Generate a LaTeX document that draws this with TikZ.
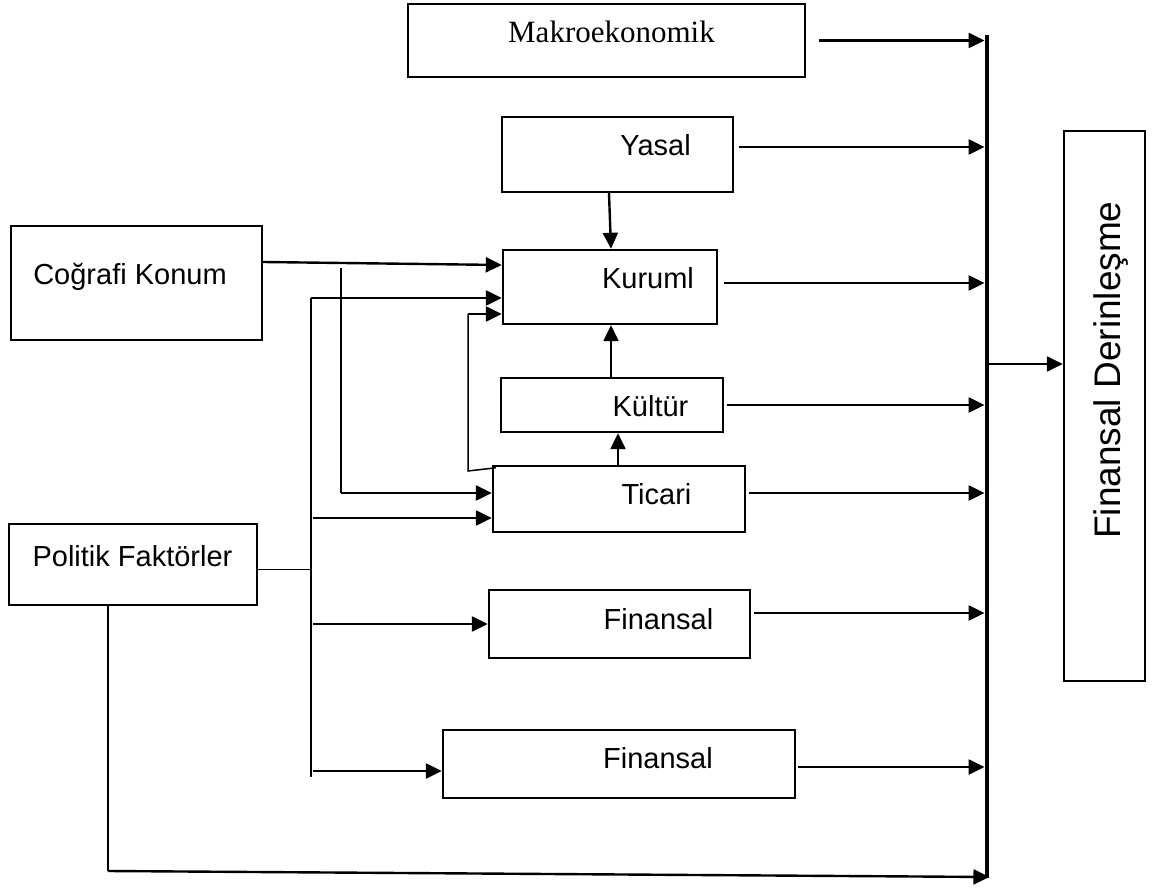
\documentclass[tikz,border=0pt]{standalone}
\usepackage{fontspec}
\setmainfont{Liberation Sans}
\newfontfamily\timesfont{Liberation Serif}
\usetikzlibrary{arrows.meta}

\begin{document}
\begin{tikzpicture}[
    x=1pt, y=-1pt,
    >={Triangle[length=16pt, width=15pt]},
    box/.style={draw, line width=2.4pt, inner sep=0pt},
    txt/.style={anchor=base, inner sep=0pt, font=\fontsize{29}{34}\selectfont},
    arr/.style={->, line width=2.4pt},
    wire/.style={line width=1.5pt}
  ]
  \useasboundingbox (0,0) rectangle (1162,890);

  % ---- Boxes ----
  \node[box, minimum width=397pt, minimum height=73pt] (makro) at (606.5,40.5) {};
  \node[txt, font=\timesfont\fontsize{31}{36}\selectfont] (makrotxt) at (611.5,43) {Makroekonomik};
  \node[box, minimum width=231pt, minimum height=75pt] (yasal) at (617.5,154.5) {};
  \node[txt] (yasaltxt) at (655.5,156) {Yasal};
  \node[box, minimum width=214pt, minimum height=74pt] (kuruml) at (610,287) {};
  \node[txt] (kurumltxt) at (648,289) {Kuruml};
  \node[box, minimum width=222pt, minimum height=54pt] (kultur) at (612,405) {};
  \node[txt] (kulturtxt) at (650.5,417) {Kültür};
  \node[box, minimum width=252pt, minimum height=66pt] (ticari) at (619,499) {};
  \node[txt] (ticaritxt) at (656.5,504) {Ticari};
  \node[box, minimum width=261pt, minimum height=68pt] (finA) at (619.5,624) {};
  \node[txt] (finAtxt) at (658.5,629) {Finansal};
  \node[box, minimum width=352pt, minimum height=68pt] (finB) at (619,764) {};
  \node[txt] (finBtxt) at (658,768) {Finansal};

  % Left side
  \node[box, minimum width=251pt, minimum height=114pt] (cografi) at (136.5,283) {};
  \node[txt] (cografitxt) at (130,285) {Coğrafi Konum};
  \node[box, minimum width=248pt, minimum height=81pt] (politik) at (133,564.5) {};
  \node[txt] (politiktxt) at (132.5,566) {Politik Faktörler};

  % Right side
  \node[fill, inner sep=0pt, minimum width=4.5pt, minimum height=843pt] (bus) at (987,456.5) {};
  \node[box, minimum width=81pt, minimum height=550pt] (derin) at (1104.5,406) {};
  \node[txt, rotate=90, font=\fontsize{37}{44}\selectfont] (derintxt) at (1120,370) {Finansal Derinleşme};

  % ---- Into the bus ----
  \draw[arr] ([xshift=13pt]makro.east) coordinate (m1) -- (m1 -| bus.west);
  \draw[arr] ([xshift=5pt,yshift=7.5pt]yasal.east) coordinate (y1) -- (y1 -| bus.west);
  \draw[arr] ([xshift=6pt,yshift=4pt]kuruml.east) coordinate (k1) -- (k1 -| bus.west);
  \draw[arr] ([xshift=3pt]kultur.east) coordinate (u1) -- (u1 -| bus.west);
  \draw[arr] ([xshift=3pt,yshift=6pt]ticari.east) coordinate (t1) -- (t1 -| bus.west);
  \draw[arr] ([xshift=3pt,yshift=11pt]finA.east) coordinate (f1) -- (f1 -| bus.west);
  \draw[arr] ([xshift=2pt,yshift=-3pt]finB.east) coordinate (f2) -- (f2 -| bus.west);
  \draw[arr] ([yshift=92.5pt]bus.east) coordinate (d1) -- (d1 -| derin.west);

  % ---- Middle chain ----
  \draw[arr] ([xshift=-8.5pt]yasal.south) -- ([xshift=1pt]kuruml.north);
  \draw[arr] ([xshift=-1pt]kultur.north) -- ([xshift=1pt]kuruml.south);
  \draw[arr] ([xshift=-1pt]ticari.north) -- ([xshift=6pt]kultur.south);

  % feedback Ticari -> Kuruml
  \coordinate (fa) at (468,471);
  \coordinate (fb) at (468,314);
  \draw[wire] ([xshift=4pt,yshift=-3pt]ticari.north west) -- (fa) -- (fb);
  \draw[arr] (fb) -- (fb -| kuruml.west);

  % ---- Cografi Konum ----
  \draw[arr] ([yshift=21pt]cografi.east) -- ([yshift=22pt]kuruml.west);
  \coordinate (ca) at (341,268);
  \coordinate (cb) at (341,493);
  \draw[wire] (ca) -- (cb);
  \draw[arr] (cb) -- (cb -| ticari.west);

  % ---- Politik Faktorler ----
  \coordinate (pa) at (311,298);
  \coordinate (pb) at (311,777);
  \draw[wire] (pa) -- (pb);
  \draw[wire] ([yshift=-5pt]politik.east) coordinate (p0) -- (p0 -| pa);
  \draw[arr] (pa) -- (pa -| kuruml.west);
  \coordinate (p1) at (313,518);
  \coordinate (p2) at (313,624);
  \coordinate (p3) at (313,771);
  \draw[arr] (p1) -- (p1 -| ticari.west);
  \draw[arr] (p2) -- (p2 -| finA.west);
  \draw[arr] (p3) -- (p3 -| finB.west);

  % Politik -> bus, along the bottom
  \coordinate (pc) at (108,871);
  \draw[wire] ([xshift=-25pt]politik.south) -- (pc);
  \draw[arr] (pc) -- ([yshift=-420.5pt]bus.east);
\end{tikzpicture}
\end{document}
